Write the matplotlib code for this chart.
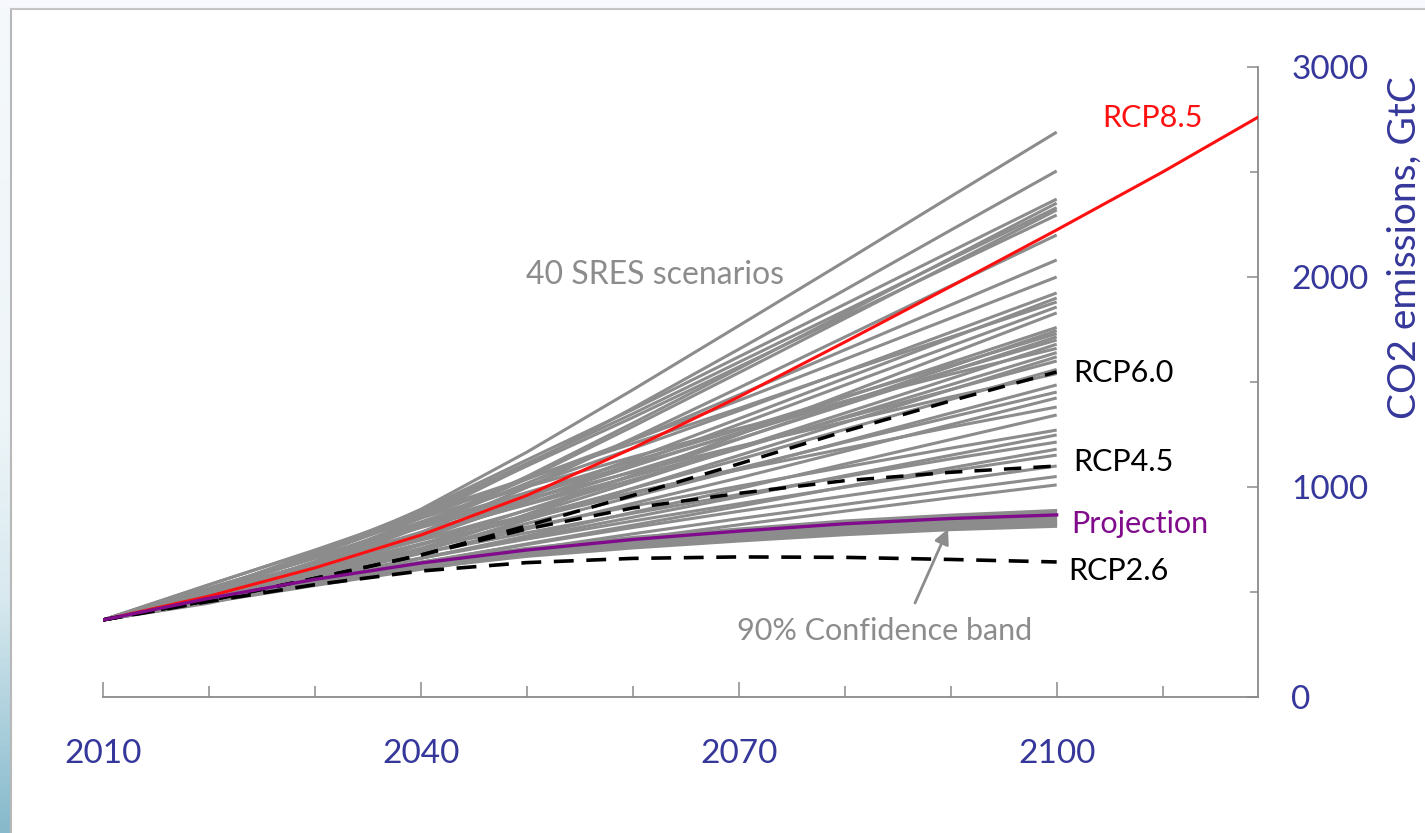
import matplotlib
matplotlib.use("Agg")
import matplotlib.pyplot as plt
import numpy as np
from matplotlib.colors import LinearSegmentedColormap

plt.rcParams['font.family'] = ['Lato', 'DejaVu Sans']

# cumulative CO2 emissions, GtC
years = [2010, 2020, 2030, 2040, 2050, 2060, 2070, 2080, 2090, 2100]
sres = [
    [367, 495, 669, 894, 1166, 1463, 1768, 2074, 2383, 2690],
    [367, 485, 645, 852, 1102, 1376, 1656, 1938, 2223, 2505],
    [367, 507, 688, 888, 1129, 1369, 1620, 1870, 2121, 2371],
    [367, 476, 625, 818, 1050, 1304, 1564, 1826, 2090, 2352],
    [367, 504, 681, 877, 1113, 1349, 1594, 1839, 2085, 2330],
    [367, 474, 621, 810, 1039, 1288, 1544, 1802, 2061, 2319],
    [367, 502, 675, 868, 1100, 1331, 1572, 1813, 2054, 2295],
    [367, 468, 605, 783, 998, 1232, 1472, 1714, 1958, 2200],
    [367, 487, 641, 813, 1018, 1224, 1438, 1653, 1867, 2081],
    [367, 514, 677, 857, 1037, 1224, 1412, 1608, 1804, 2000],
    [367, 507, 663, 834, 1005, 1184, 1363, 1550, 1737, 1924],
    [367, 474, 612, 766, 950, 1134, 1325, 1517, 1708, 1900],
    [367, 534, 700, 874, 1041, 1207, 1374, 1548, 1714, 1881],
    [367, 471, 605, 754, 933, 1112, 1298, 1485, 1671, 1857],
    [367, 447, 557, 699, 870, 1057, 1249, 1442, 1636, 1829],
    [367, 492, 632, 785, 938, 1098, 1259, 1426, 1593, 1760],
    [367, 463, 587, 725, 891, 1056, 1228, 1401, 1573, 1745],
    [367, 517, 667, 824, 974, 1123, 1273, 1430, 1580, 1730],
    [367, 488, 623, 771, 920, 1075, 1230, 1391, 1553, 1715],
    [367, 514, 660, 814, 960, 1107, 1253, 1407, 1553, 1700],
    [367, 459, 577, 708, 866, 1024, 1188, 1352, 1516, 1680],
    [367, 535, 697, 852, 1001, 1143, 1279, 1408, 1537, 1660],
    [367, 482, 609, 749, 889, 1035, 1182, 1334, 1487, 1640],
    [367, 455, 567, 693, 843, 994, 1150, 1307, 1463, 1620],
    [367, 503, 638, 780, 916, 1051, 1187, 1329, 1464, 1600],
    [367, 474, 594, 725, 856, 993, 1131, 1274, 1417, 1560],
    [367, 519, 666, 807, 942, 1071, 1194, 1311, 1429, 1540],
    [367, 468, 580, 703, 826, 954, 1083, 1217, 1352, 1486],
    [367, 486, 606, 730, 850, 969, 1089, 1213, 1333, 1452],
    [367, 462, 568, 684, 800, 922, 1043, 1170, 1297, 1424],
    [367, 499, 626, 747, 864, 975, 1082, 1183, 1285, 1381],
    [367, 455, 552, 660, 767, 879, 992, 1109, 1226, 1343],
    [367, 485, 598, 706, 810, 909, 1004, 1095, 1185, 1271],
    [367, 464, 561, 662, 759, 856, 953, 1054, 1151, 1248],
    [367, 477, 583, 685, 782, 875, 964, 1049, 1134, 1214],
    [367, 456, 546, 639, 729, 818, 908, 1001, 1091, 1180],
    [367, 469, 567, 661, 752, 838, 920, 999, 1077, 1152],
    [367, 462, 554, 642, 726, 807, 884, 957, 1030, 1100],
    [367, 456, 541, 623, 702, 777, 849, 917, 985, 1050],
    [367, 451, 531, 608, 682, 753, 820, 885, 949, 1010],
]

band_hi = [367, 478, 572, 653, 718, 770, 810, 848, 876, 898]
band_lo = [367, 460, 540, 610, 665, 705, 738, 768, 792, 808]
projection = [367, 470, 560, 638, 700, 750, 790, 825, 850, 867]
rcp60 = [367, 460, 565, 676, 815, 960, 1110, 1265, 1410, 1548]
rcp45 = [367, 460, 565, 676, 800, 900, 970, 1030, 1070, 1100]
rcp26 = [367, 455, 535, 600, 640, 660, 667, 665, 655, 643]

rcp85_years = [2010, 2020, 2030, 2040, 2050, 2060, 2070, 2080, 2090, 2100, 2110, 2120]
rcp85 = [367, 480, 615, 771, 960, 1185, 1429, 1690, 1955, 2224, 2500, 2790]

blue = '#35379a'
grey = '#8c8c8c'
purple = '#800c8c'
W, H = 1425, 833


def px(x, y):
    # pixel position (from top left) -> figure fraction
    return x / W, 1 - y / H


fig = plt.figure(figsize=(W / 100, H / 100), dpi=100)

# slide decoration: pale strip on top, blue gradient on the left
fig.patches.append(plt.Rectangle((0, 1 - 9 / H), 1, 9 / H, transform=fig.transFigure,
                                 color='#f7f8fd', zorder=0))
strip = fig.add_axes([0, 0, 11 / W, 1])
cmap = LinearSegmentedColormap.from_list('strip', [(0, '#f5f9fb'), (0.5, '#eef5f8'),
                                                   (0.72, '#d8e9ef'), (1, '#86b9cb')])
strip.imshow(np.linspace(0, 1, 200).reshape(-1, 1), aspect='auto', cmap=cmap)
strip.axis('off')
fig.add_artist(plt.Line2D([11 / W, 11 / W], [0, 1 - 9 / H], color='#b8b8b8', lw=1.5))
fig.add_artist(plt.Line2D([11 / W, 1], [1 - 9 / H, 1 - 9 / H], color='#c4c4c4', lw=1.5))

ax = fig.add_axes([103 / W, 1 - 697 / H, (1258 - 103) / W, (697 - 67) / H])

for s in sres:
    ax.plot(years, s, color=grey, lw=2.2, solid_capstyle='butt', zorder=2)
ax.fill_between(years, band_lo, band_hi, color=grey, lw=0, zorder=2)
ax.plot(rcp85_years, rcp85, color='#ff1010', lw=2.2, zorder=4)
for r in [rcp60, rcp45]:
    ax.plot(years, r, color='black', lw=2.5, ls=(0, (5, 3.5)), zorder=4)
ax.plot(years, rcp26, color='black', lw=2.6, ls=(0, (5.5, 3.5)), zorder=4)
ax.plot(years, projection, color=purple, lw=2.4, zorder=5)

ax.set_xlim(2010, 2119)
ax.set_ylim(0, 3000)
for side in ['left', 'top']:
    ax.spines[side].set_visible(False)
for side in ['bottom', 'right']:
    ax.spines[side].set_color('#8a8a8a')
    ax.spines[side].set_linewidth(1.3)

ax.set_xticks([2010, 2040, 2070, 2100])
ax.set_xticks([2020, 2030, 2050, 2060, 2080, 2090, 2110], minor=True)
ax.tick_params(axis='x', which='both', direction='in', color='#8a8a8a', width=1.1,
               labelcolor=blue, labelsize=24, pad=30)
ax.tick_params(axis='x', which='major', length=11)
ax.tick_params(axis='x', which='minor', length=8)

ax.yaxis.tick_right()
ax.set_yticks([0, 1000, 2000, 3000])
ax.set_yticks([500, 1500, 2500], minor=True)
ax.tick_params(axis='y', which='both', direction='in', color='#8a8a8a', width=1.1,
               labelcolor=blue, labelsize=24, pad=24)
ax.tick_params(axis='y', which='major', length=8)
ax.tick_params(axis='y', which='minor', length=6)
for lab in ax.get_yticklabels():
    lab.set_horizontalalignment('left')

fig.text(*px(1405, 248), 'CO2 emissions, GtC', rotation=90, color=blue,
         fontsize=28, ha='center', va='center')

fig.text(*px(1102, 118), 'RCP8.5', color='#ff1010', fontsize=22, va='center')
fig.text(*px(655, 275), '40 SRES scenarios', color=grey, fontsize=23, va='center', ha='center')
fig.text(*px(1073, 373), 'RCP6.0', color='black', fontsize=22, va='center')
fig.text(*px(1073, 462), 'RCP4.5', color='black', fontsize=22, va='center')
fig.text(*px(1071, 524), 'Projection', color=purple, fontsize=22, va='center')
fig.text(*px(1068, 571), 'RCP2.6', color='black', fontsize=22, va='center')
fig.text(*px(885, 631), '90% Confidence band', color=grey, fontsize=22, va='center', ha='center')
fig.add_artist(plt.Annotation('', xy=(948, H - 529), xycoords='figure pixels',
                              xytext=(915, H - 603), textcoords='figure pixels',
                              arrowprops=dict(arrowstyle='-|>', color=grey, lw=2,
                                              mutation_scale=22, shrinkA=0, shrinkB=0)))

fig.savefig('out.png', dpi=100)
